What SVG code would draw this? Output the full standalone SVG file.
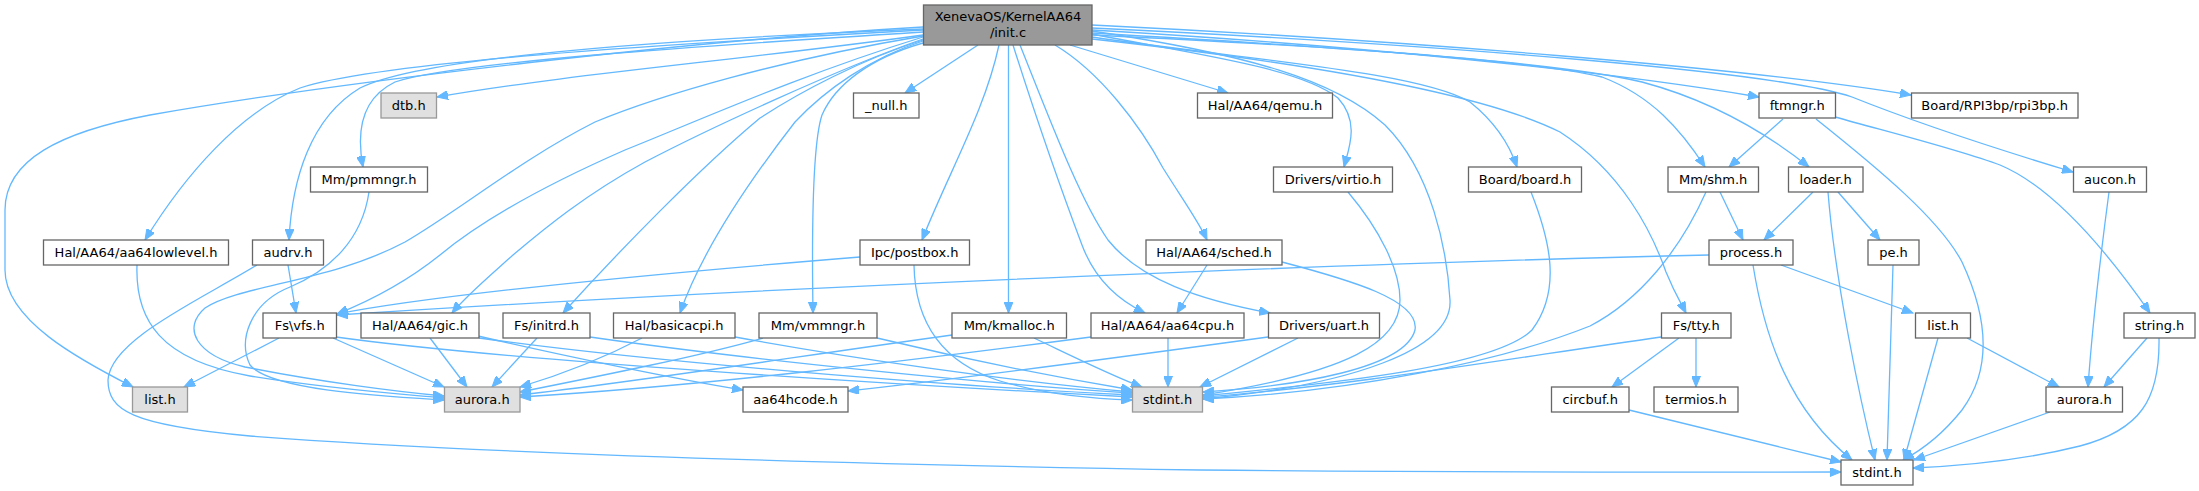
<svg xmlns="http://www.w3.org/2000/svg" width="2199" height="491" viewBox="0 0 2199 491">
<style>
.n rect{fill:#ffffff;stroke:#666666;stroke-width:1.3}
.g rect{fill:#e0e0e0;stroke:#999999;stroke-width:1.3}
.r rect{fill:#999999;stroke:#666666;stroke-width:1.3}
text{font-family:"DejaVu Sans","Liberation Sans",sans-serif;font-size:13px;fill:#000000;text-anchor:middle}
#edges path{fill:none;stroke:#63b8ff;stroke-width:1.3;marker-end:url(#a)}
</style>
<defs>
<marker id="a" markerWidth="12" markerHeight="9" refX="11" refY="4.5" orient="auto" markerUnits="userSpaceOnUse"><path d="M0,0 L11,4.5 L0,9 z" fill="#63b8ff" stroke="#63b8ff" stroke-width="1"/></marker>
</defs>
<rect width="2199" height="491" fill="#ffffff"/>
<g id="edges">
<path d="M923,27 C700,40 350,80 150,115 C60,132 5,160 5,210 L5,270 C5,320 80,360 133,387"/>
<path d="M923,30 C650,45 380,62 300,88 C240,112 185,175 145,240"/>
<path d="M923,29 C650,40 420,58 360,88 C310,118 292,180 289,240"/>
<path d="M923,32 C700,46 455,62 395,82 C362,98 356,130 363,167"/>
<path d="M923,35 C760,58 560,75 437,97"/>
<path d="M923,36 C780,60 660,95 595,122 C520,160 460,210 405,242 C330,282 240,285 205,308 C182,328 195,355 245,367 C320,382 400,392 444,396"/>
<path d="M923,37 C800,75 700,120 625,150 C545,185 480,222 440,255 C405,283 372,300 337,314"/>
<path d="M923,39 C840,68 710,128 645,162 C585,195 545,228 513,255 C485,280 466,296 452,313"/>
<path d="M923,40 C860,60 800,92 760,118 C700,168 620,250 563,313"/>
<path d="M923,41 C870,58 825,90 795,122 C750,180 702,250 680,313"/>
<path d="M923,43 C870,58 835,85 822,115 C812,145 812,250 813,313"/>
<path d="M999,45 C985,110 950,170 922,240"/>
<path d="M978,45 L905,93"/>
<path d="M1008.5,45 L1008.5,313"/>
<path d="M1013,45 C1040,130 1065,200 1082,245 C1095,280 1118,300 1145,313"/>
<path d="M1055,45 C1100,72 1140,125 1163,168 C1183,200 1199,222 1207,240"/>
<path d="M1070,45 L1228,93"/>
<path d="M1020,45 C1050,120 1080,200 1108,240 C1140,280 1200,300 1270,313"/>
<path d="M1092,34 C1200,55 1300,68 1338,98 C1360,122 1349,148 1344,167"/>
<path d="M1092,31 C1250,55 1335,80 1385,125 C1432,172 1447,250 1450,300 C1453,350 1350,385 1203,399"/>
<path d="M1092,37 C1250,60 1420,72 1470,102 C1495,122 1510,146 1517,167"/>
<path d="M1092,39 C1300,62 1480,92 1560,132 C1622,172 1652,232 1666,272 C1675,294 1682,305 1686,313"/>
<path d="M1092,35 C1300,45 1520,58 1602,77 C1652,96 1681,130 1705,167"/>
<path d="M1092,33 C1300,45 1550,60 1642,82 C1702,98 1760,128 1809,167"/>
<path d="M1092,30 C1350,45 1600,70 1759,97"/>
<path d="M1092,25 C1400,40 1750,68 1911,95"/>
<path d="M1092,28 C1450,45 1780,72 1852,97 C1902,117 1990,147 2073,172"/>
<path d="M137,265 C135,320 160,360 250,376 C330,389 400,394 444,398"/>
<path d="M288,265 L296,313"/>
<path d="M257,265 C200,300 110,340 108,380 C108,410 130,425 250,436 C500,455 900,465 1200,470 C1500,473 1700,472 1841,472"/>
<path d="M369,192 C362,240 330,270 290,287 C250,303 238,340 250,365 C270,390 380,396 444,400"/>
<path d="M279,338 L184,387"/>
<path d="M333,338 L444,387"/>
<path d="M336,337 C500,360 900,385 1132,397"/>
<path d="M430,338 L467,387"/>
<path d="M478,336 C560,355 680,380 743,390"/>
<path d="M479,338 C650,362 950,386 1132,395"/>
<path d="M537,338 L492,387"/>
<path d="M590,337 C750,360 1000,385 1132,393"/>
<path d="M642,338 C600,360 560,375 520,387"/>
<path d="M735,337 C850,358 1000,380 1132,392"/>
<path d="M763,338 C700,356 600,376 520,392"/>
<path d="M877,338 C960,358 1060,378 1132,390"/>
<path d="M860,257 C700,270 450,292 337,314"/>
<path d="M914,265 C915,320 940,362 1000,381 C1050,396 1100,399 1132,400"/>
<path d="M952,335 C800,356 650,380 520,395"/>
<path d="M1034,338 C1070,355 1110,375 1142,387"/>
<path d="M1091,337 C900,362 700,386 520,397"/>
<path d="M1168,338 L1168,387"/>
<path d="M1268,337 C1100,360 950,380 848,391"/>
<path d="M1298,338 L1200,387"/>
<path d="M1207,265 L1177,313"/>
<path d="M1282,262 C1350,280 1420,300 1415,330 C1405,368 1300,386 1203,392"/>
<path d="M1348,192 C1380,230 1400,270 1400,300 C1400,342 1350,372 1203,395"/>
<path d="M1531,192 C1550,240 1562,290 1532,330 C1492,370 1300,386 1203,396"/>
<path d="M1661,337 C1500,360 1350,386 1203,397"/>
<path d="M1706,192 C1680,250 1640,300 1590,326 C1500,362 1350,392 1203,399"/>
<path d="M1679,338 L1612,387"/>
<path d="M1696,338 L1696,387"/>
<path d="M1720,192 L1743,240"/>
<path d="M1813,192 L1764,240"/>
<path d="M1838,192 L1880,240"/>
<path d="M1828,192 C1835,280 1860,400 1875,460"/>
<path d="M1783,119 L1729,167"/>
<path d="M1835,117 C1900,135 1960,150 2000,165 C2060,190 2120,270 2150,313"/>
<path d="M1816,119 C1880,170 1940,220 1962,262 C1990,322 1990,372 1962,410 C1942,435 1922,450 1903,460"/>
<path d="M1709,255 C1400,262 800,285 337,315"/>
<path d="M1781,265 L1913,313"/>
<path d="M1753,265 C1765,340 1790,410 1852,460"/>
<path d="M1893,265 L1887,460"/>
<path d="M1938,338 L1904,460"/>
<path d="M1967,338 L2059,387"/>
<path d="M2109,192 C2100,260 2092,330 2088,387"/>
<path d="M2147,338 L2104,387"/>
<path d="M2159,338 C2160,400 2140,430 2080,446 C2020,461 1960,466 1913,468"/>
<path d="M1629,410 L1841,462"/>
<path d="M2050,412 L1914,460"/>
</g>
<g id="init" class="r"><rect x="923.5" y="5" width="168.5" height="40"/><text x="1008" y="21">XenevaOS/KernelAA64</text><text x="1008" y="37">/init.c</text></g>
<g id="dtb" class="g"><rect x="381" y="93" width="55.5" height="25"/><text x="408.7" y="110">dtb.h</text></g>
<g id="null" class="n"><rect x="853.5" y="93" width="65.5" height="25"/><text x="886.2" y="110">_null.h</text></g>
<g id="qemu" class="n"><rect x="1197.5" y="93" width="135" height="25"/><text x="1265" y="110">Hal/AA64/qemu.h</text></g>
<g id="ftmngr" class="n"><rect x="1759" y="93" width="76.5" height="25"/><text x="1797.2" y="110">ftmngr.h</text></g>
<g id="rpi3bp" class="n"><rect x="1911.5" y="93" width="166.5" height="25"/><text x="1994.7" y="110">Board/RPI3bp/rpi3bp.h</text></g>
<g id="pmmngr" class="n"><rect x="310.5" y="167" width="117" height="25"/><text x="369" y="184">Mm/pmmngr.h</text></g>
<g id="virtio" class="n"><rect x="1273.5" y="167" width="119" height="25"/><text x="1333" y="184">Drivers/virtio.h</text></g>
<g id="board" class="n"><rect x="1468.5" y="167" width="113" height="25"/><text x="1525" y="184">Board/board.h</text></g>
<g id="shm" class="n"><rect x="1668" y="167" width="90.5" height="25"/><text x="1713.2" y="184">Mm/shm.h</text></g>
<g id="loader" class="n"><rect x="1788.5" y="167" width="74.5" height="25"/><text x="1825.7" y="184">loader.h</text></g>
<g id="aucon" class="n"><rect x="2073.5" y="167" width="73" height="25"/><text x="2110" y="184">aucon.h</text></g>
<g id="aa64lowlevel" class="n"><rect x="43.5" y="240" width="185" height="25"/><text x="136" y="257">Hal/AA64/aa64lowlevel.h</text></g>
<g id="audrv" class="n"><rect x="252.5" y="240" width="71" height="25"/><text x="288" y="257">audrv.h</text></g>
<g id="postbox" class="n"><rect x="860" y="240" width="109.5" height="25"/><text x="914.7" y="257">Ipc/postbox.h</text></g>
<g id="sched" class="n"><rect x="1146" y="240" width="136" height="25"/><text x="1214" y="257">Hal/AA64/sched.h</text></g>
<g id="process" class="n"><rect x="1709" y="240" width="84" height="25"/><text x="1751" y="257">process.h</text></g>
<g id="pe" class="n"><rect x="1868" y="240" width="51" height="25"/><text x="1893.5" y="257">pe.h</text></g>
<g id="vfs" class="n"><rect x="263" y="313" width="73.5" height="25"/><text x="299.7" y="330">Fs\vfs.h</text></g>
<g id="gic" class="n"><rect x="361" y="313" width="118" height="25"/><text x="420" y="330">Hal/AA64/gic.h</text></g>
<g id="initrd" class="n"><rect x="503" y="313" width="87" height="25"/><text x="546.5" y="330">Fs/initrd.h</text></g>
<g id="basicacpi" class="n"><rect x="613.5" y="313" width="121.5" height="25"/><text x="674.2" y="330">Hal/basicacpi.h</text></g>
<g id="vmmngr" class="n"><rect x="759" y="313" width="118" height="25"/><text x="818" y="330">Mm/vmmngr.h</text></g>
<g id="kmalloc" class="n"><rect x="952" y="313" width="114.5" height="25"/><text x="1009.2" y="330">Mm/kmalloc.h</text></g>
<g id="aa64cpu" class="n"><rect x="1091" y="313" width="153" height="25"/><text x="1167.5" y="330">Hal/AA64/aa64cpu.h</text></g>
<g id="uart" class="n"><rect x="1268.5" y="313" width="111" height="25"/><text x="1324" y="330">Drivers/uart.h</text></g>
<g id="tty" class="n"><rect x="1661.5" y="313" width="69.5" height="25"/><text x="1696.2" y="330">Fs/tty.h</text></g>
<g id="list2" class="n"><rect x="1915.5" y="313" width="55" height="25"/><text x="1943" y="330">list.h</text></g>
<g id="string" class="n"><rect x="2124" y="313" width="71" height="25"/><text x="2159.5" y="330">string.h</text></g>
<g id="list1" class="g"><rect x="132.5" y="387" width="55" height="25"/><text x="160" y="404">list.h</text></g>
<g id="aurora1" class="g"><rect x="444.5" y="387" width="75.5" height="25"/><text x="482.2" y="404">aurora.h</text></g>
<g id="aa64hcode" class="n"><rect x="743" y="387" width="105" height="25"/><text x="795.5" y="404">aa64hcode.h</text></g>
<g id="stdint1" class="g"><rect x="1132.5" y="387" width="70" height="25"/><text x="1167.5" y="404">stdint.h</text></g>
<g id="circbuf" class="n"><rect x="1551.5" y="387" width="77.5" height="25"/><text x="1590.2" y="404">circbuf.h</text></g>
<g id="termios" class="n"><rect x="1654" y="387" width="84" height="25"/><text x="1696" y="404">termios.h</text></g>
<g id="aurora2" class="n"><rect x="2046" y="387" width="76.5" height="25"/><text x="2084.2" y="404">aurora.h</text></g>
<g id="stdint2" class="n"><rect x="1841" y="460" width="72" height="25"/><text x="1877" y="477">stdint.h</text></g>
</svg>
